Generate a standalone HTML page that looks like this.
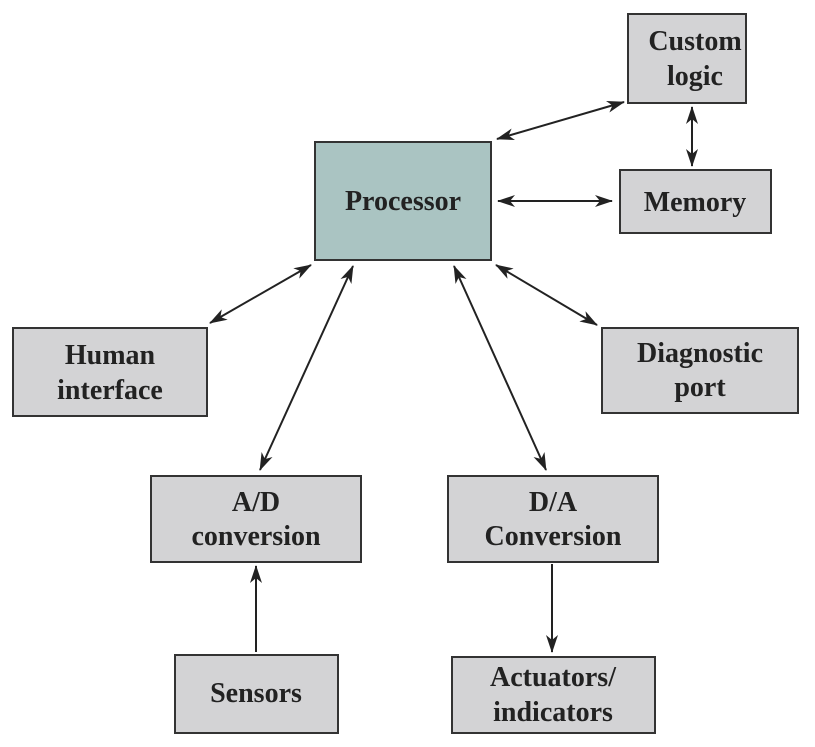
<!DOCTYPE html>
<html><head><style>
body{margin:0;background:#fff;}
svg text{font-family:"Liberation Serif",serif;font-weight:bold;font-size:28px;fill:#222;text-anchor:middle;}
</style></head><body>
<svg width="815" height="742" viewBox="0 0 815 742" xmlns="http://www.w3.org/2000/svg">
<defs>
<marker id="a" viewBox="0 0 18 12" refX="17" refY="6" markerWidth="18" markerHeight="12" markerUnits="userSpaceOnUse" orient="auto-start-reverse">
<path d="M0,0 L18,6 L0,12 L5,6 Z" fill="#222"/>
</marker>
</defs>
<g stroke="#333" stroke-width="2" fill="#d3d3d5">
<rect x="628" y="14" width="118" height="89"/>
<rect x="315" y="142" width="176" height="118" fill="#aac4c2"/>
<rect x="620" y="170" width="151" height="63"/>
<rect x="13" y="328" width="194" height="88"/>
<rect x="602" y="328" width="196" height="85"/>
<rect x="151" y="476" width="210" height="86"/>
<rect x="448" y="476" width="210" height="86"/>
<rect x="175" y="655" width="163" height="78"/>
<rect x="452" y="657" width="203" height="76"/>
</g>
<g stroke="#222" stroke-width="2" fill="none">
<line x1="497" y1="139" x2="624" y2="102" marker-start="url(#a)" marker-end="url(#a)"/>
<line x1="498" y1="201" x2="612" y2="201" marker-start="url(#a)" marker-end="url(#a)"/>
<line x1="692" y1="107" x2="692" y2="166" marker-start="url(#a)" marker-end="url(#a)"/>
<line x1="210" y1="323" x2="311" y2="265" marker-start="url(#a)" marker-end="url(#a)"/>
<line x1="353" y1="266" x2="260" y2="470" marker-start="url(#a)" marker-end="url(#a)"/>
<line x1="454" y1="266" x2="546" y2="470" marker-start="url(#a)" marker-end="url(#a)"/>
<line x1="496" y1="265" x2="597" y2="325" marker-start="url(#a)" marker-end="url(#a)"/>
<line x1="256" y1="652" x2="256" y2="566" marker-end="url(#a)"/>
<line x1="552" y1="564" x2="552" y2="652" marker-end="url(#a)"/>
</g>
<text x="695" y="50">Custom</text>
<text x="695" y="85">logic</text>
<text x="403" y="210">Processor</text>
<text x="695" y="211">Memory</text>
<text x="110" y="364">Human</text>
<text x="110" y="399">interface</text>
<text x="700" y="362">Diagnostic</text>
<text x="700" y="396">port</text>
<text x="256" y="511">A/D</text>
<text x="256" y="545">conversion</text>
<text x="553" y="511">D/A</text>
<text x="553" y="545">Conversion</text>
<text x="256" y="702">Sensors</text>
<text x="553" y="686">Actuators/</text>
<text x="553" y="721">indicators</text>
</svg>
</body></html>
